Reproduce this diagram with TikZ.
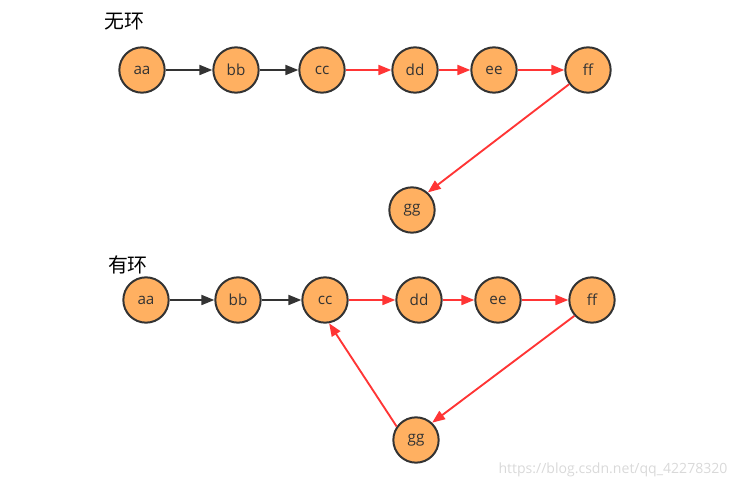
\documentclass[tikz,border=0pt]{standalone}
\usepackage{fontspec}
\setmainfont{Open Sans}
\newfontfamily\cjk{Noto Sans CJK SC}
\usetikzlibrary{arrows.meta}

\definecolor{nodeorange}{HTML}{FFB061}
\definecolor{edgegray}{HTML}{333333}
\definecolor{edgered}{HTML}{FF3535}

\tikzset{
  vert/.style={circle, draw=edgegray, line width=1.7pt, fill=nodeorange, minimum size=1.36cm, inner sep=0pt, text=edgegray, font=\fontsize{13}{15}\selectfont},
  blk/.style={draw=edgegray, line width=1.6pt, -{Triangle[length=11pt, width=8.5pt]}},
  red/.style={draw=edgered, line width=1.6pt, -{Triangle[length=11pt, width=8.5pt]}},
  title/.style={font=\cjk\fontsize{17}{19}\selectfont, text=black}
}

\begin{document}
\begin{tikzpicture}[x=0.03cm, y=-0.03cm]
        \useasboundingbox (0,0) rectangle (743,488);
        % without cycle
        \node[title] (t1) at (124, 22) {无环};
        \node[vert] (a1) at (142, 70) {aa};
        \node[vert] (b1) at (236, 70) {bb};
        \node[vert] (c1) at (322, 70) {cc};
        \node[vert] (d1) at (415, 70) {dd};
        \node[vert] (e1) at (494, 70) {ee};
        \node[vert] (f1) at (588, 70) {ff};
        \node[vert] (g1) at (412, 210) {gg};
        \draw[blk] (a1) -- (b1);
        \draw[blk] (b1) -- (c1);
        \draw[red] (c1) -- (d1);
        \draw[red] (d1) -- (e1);
        \draw[red] (e1) -- (f1);
        \draw[red] (f1.-143) -- (g1.48);
        % with cycle
        \node[title] (t2) at (128, 265) {有环};
        \node[vert] (a2) at (146, 300) {aa};
        \node[vert] (b2) at (238, 300) {bb};
        \node[vert] (c2) at (325, 300) {cc};
        \node[vert] (d2) at (419, 300) {dd};
        \node[vert] (e2) at (498, 300) {ee};
        \node[vert] (f2) at (592, 300) {ff};
        \node[vert] (g2) at (416, 440) {gg};
        \draw[blk] (a2) -- (b2);
        \draw[blk] (b2) -- (c2);
        \draw[red] (c2) -- (d2);
        \draw[red] (d2) -- (e2);
        \draw[red] (e2) -- (f2);
        \draw[red] (f2.-138) -- (g2.47);
        \draw[red] (g2.145) -- (c2.-80);
        \node[text=black!15, font=\fontsize{12}{14}\selectfont] (url) at (613, 470) {https://blog.csdn.net/qq\_42278320};
    \end{tikzpicture}
\end{document}
